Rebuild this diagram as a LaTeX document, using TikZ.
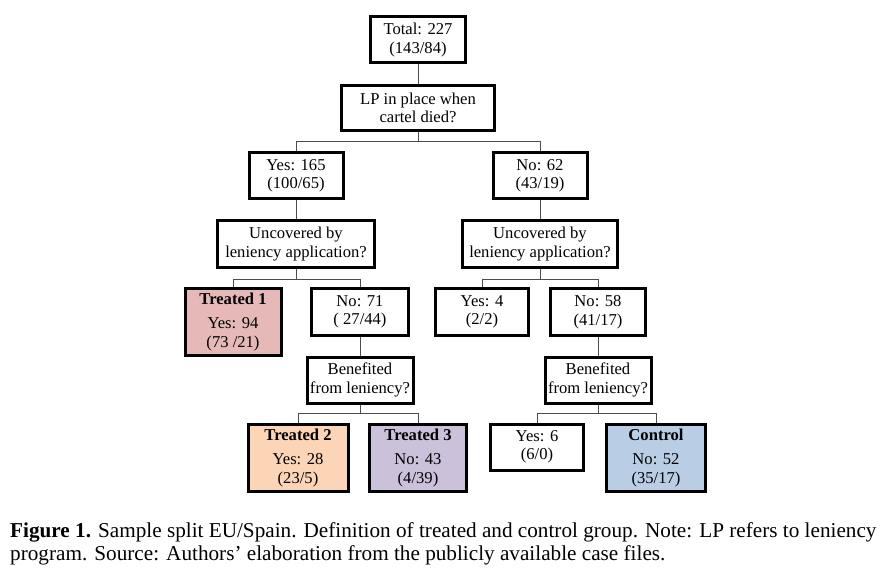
\documentclass[tikz,border=0pt]{standalone}
\usepackage{fontspec}
\setmainfont{Liberation Serif}
\usetikzlibrary{positioning}
\definecolor{treatOneFill}{HTML}{E6B9B8}
\definecolor{treatTwoFill}{HTML}{FBD5B5}
\definecolor{treatThreeFill}{HTML}{CCC1DA}
\definecolor{controlFill}{HTML}{B9CDE5}
\tikzstyle{splitBox}=[draw, line width=3pt, align=center, inner sep=1pt, font=\fontsize{16.6}{18.5}\selectfont]
\tikzstyle{groupBox}=[splitBox, minimum height=67pt]
\tikzstyle{branchLine}=[line width=1pt, black!70]
\tikzstyle{captionText}=[anchor=base west, inner sep=0pt, font=\fontsize{21.2}{23}\selectfont]

\begin{document}
\begin{tikzpicture}[x=1pt, y=-1pt]
	\useasboundingbox (0,0) rectangle (883,572);

	\node[splitBox, minimum width=95pt, minimum height=46pt] (total) at (418,40) {Total: 227\\(143/84)};
	\node[splitBox, minimum width=153pt, minimum height=45pt] (lp) at (418,108) {LP in place when\\cartel died?};

	\node[splitBox, minimum width=94pt, minimum height=46pt] (yesA) at (296,176) {Yes: 165\\(100/65)};
	\node[splitBox, minimum width=94pt, minimum height=46pt] (noA) at (540,176) {No: 62\\(43/19)};

	\node[splitBox, minimum width=157pt, minimum height=47pt] (uncA) at (296,244) {Uncovered by\\leniency application?};
	\node[splitBox, minimum width=155pt, minimum height=47pt] (uncB) at (540,244) {Uncovered by\\leniency application?};

	\node[groupBox, fill=treatOneFill, minimum width=96pt] (treatedOne) at (233,322) {\textbf{Treated 1}\\[6pt]Yes: 94\\(73 /21)};
	\node[splitBox, minimum width=97pt, minimum height=47pt] (noB) at (360,312) {No: 71\\( 27/44)};
	\node[splitBox, minimum width=93pt, minimum height=47pt] (yesB) at (482,312) {Yes: 4\\(2/2)};
	\node[splitBox, minimum width=95pt, minimum height=47pt] (noC) at (598,312) {No: 58\\(41/17)};

	\node[splitBox, minimum width=106pt, minimum height=46pt] (benA) at (360,380) {Benefited\\from leniency?};
	\node[splitBox, minimum width=106pt, minimum height=46pt] (benB) at (598,380) {Benefited\\from leniency?};

	\node[groupBox, fill=treatTwoFill, minimum width=100pt] (treatedTwo) at (298,458) {\textbf{Treated 2}\\[6pt]Yes: 28\\(23/5)};
	\node[groupBox, fill=treatThreeFill, minimum width=97pt] (treatedThree) at (418,458) {\textbf{Treated 3}\\[6pt]No: 43\\(4/39)};
	\node[splitBox, minimum width=93pt, minimum height=46pt] (yesC) at (537,447) {Yes: 6\\(6/0)};
	\node[groupBox, fill=controlFill, minimum width=99pt] (control) at (656,458) {\textbf{Control}\\[6pt]No: 52\\(35/17)};

	% branching points
	\coordinate (splitLp) at (418,142);
	\coordinate (splitUncA) at (296,279);
	\coordinate (splitUncB) at (540,279);
	\coordinate (splitBenA) at (360,413);
	\coordinate (splitBenB) at (598,413);

	\draw[branchLine] (total) -- (lp);
	\draw[branchLine] (lp) -- (splitLp);
	\draw[branchLine] (splitLp) -| (yesA);
	\draw[branchLine] (splitLp) -| (noA);

	\draw[branchLine] (yesA) -- (uncA);
	\draw[branchLine] (noA) -- (uncB);

	\draw[branchLine] (uncA) -- (splitUncA);
	\draw[branchLine] (splitUncA) -| (treatedOne);
	\draw[branchLine] (splitUncA) -| (noB);
	\draw[branchLine] (uncB) -- (splitUncB);
	\draw[branchLine] (splitUncB) -| (yesB);
	\draw[branchLine] (splitUncB) -| (noC);

	\draw[branchLine] (noB) -- (benA);
	\draw[branchLine] (noC) -- (benB);

	\draw[branchLine] (benA) -- (splitBenA);
	\draw[branchLine] (splitBenA) -| (treatedTwo);
	\draw[branchLine] (splitBenA) -| (treatedThree);
	\draw[branchLine] (benB) -- (splitBenB);
	\draw[branchLine] (splitBenB) -| (yesC);
	\draw[branchLine] (splitBenB) -| (control);

	\node[captionText] (captionA) at (10,537) {\textbf{Figure 1.} Sample split EU/Spain. Definition of treated and control group. Note: LP refers to leniency};
	\node[captionText] (captionB) at (10,560) {program. Source: Authors’ elaboration from the publicly available case files.};
\end{tikzpicture}
\end{document}
